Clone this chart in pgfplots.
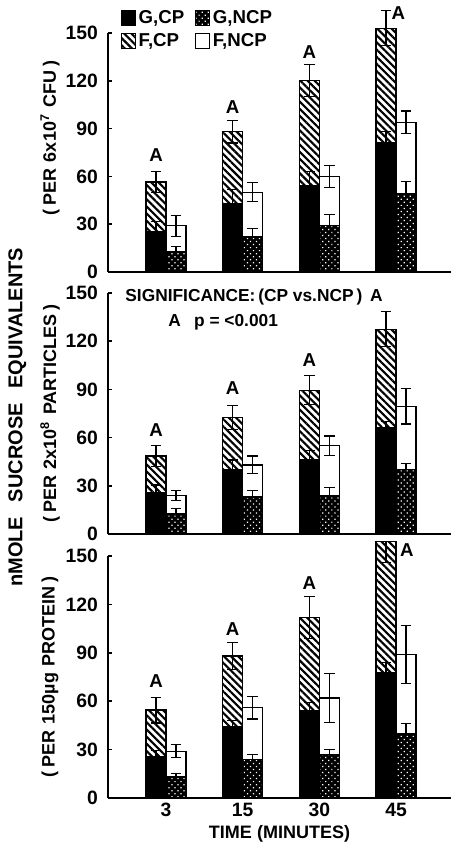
\documentclass[border=0pt]{standalone}
\usepackage{fontspec}
\setmainfont{Liberation Sans}
\usepackage{pgfplots}
\pgfplotsset{compat=1.18}
\usetikzlibrary{patterns.meta}

\newcommand\fs[1]{\fontsize{#1}{#1}\selectfont\bfseries}

\tikzset{
 fcp/.style={fill=white, draw=black, line width=0.9pt, postaction={pattern={Lines[angle=-45,distance=3.8pt,line width=1.6pt]}}},
 gcp/.style={fill=black, draw=black, line width=0.9pt},
 fncp/.style={fill=white, draw=black, line width=0.9pt},
 gncp/.style={fill=black, draw=black, line width=0.9pt, postaction={pattern={Dots[distance=3.2pt,radius=0.65pt,angle=45]}, pattern color=white}},
}

\pgfplotsset{
 panel/.style={
   scale only axis, width=257.25pt, anchor=south west,
   xmin=-0.756, xmax=3.717, ymin=0, ymax=150,
   axis x line*=bottom, axis y line*=left,
   axis line style={line width=1.1pt},
   ytick={0,30,60,90,120,150}, yticklabels={0,30,60,90,120,150},
   tick align=inside, major tick length=3pt,
   x tick style={draw=none},
   y tick style={line width=1.1pt, black},
   tick label style={font=\fs{14.5}},
   yticklabel style={xshift=-4pt},
   clip=false,
   ylabel style={at={(axis description cs:-0.169,0.5)}, anchor=center, font=\fs{13.5}},
 },
 bar/.style={ybar, bar width=0.26, bar shift=0pt, forget plot},
 eb/.style={draw=none, mark=none, forget plot, error bars/.cd, y dir=#1, y explicit,
   error bar style={draw=black, line width=0.9pt, solid},
   error mark options={draw=black, rotate=90, mark size=4pt, line width=0.9pt, solid}},
}

\begin{document}
\begin{tikzpicture}
\useasboundingbox (0,0) rectangle (338.25pt,636pt);

% ---------- Panel 1 ----------
\begin{axis}[panel, at={(81pt,432pt)}, height=179.25pt, xtick=\empty,
  ylabel={(\hspace{3pt}PER\hspace{5pt}6x10\textsuperscript{7}\hspace{5pt}CFU\hspace{3pt})},
  ylabel style={at={(axis description cs:-0.169,0.56)}},
  legend style={at={(axis description cs:0.025,1.118)}, anchor=north west, draw=none, fill=none,
    font=\fs{14}, /tikz/every even column/.append style={column sep=6pt}, row sep=2pt},
  legend columns=2, legend cell align=left]
\addlegendimage{legend image code/.code={\draw[gcp] (0pt,-5.8pt) rectangle (10.5pt,5.8pt);}}
\addlegendentry{G,CP}
\addlegendimage{legend image code/.code={\draw[gncp] (0pt,-5.8pt) rectangle (10.5pt,5.8pt);}}
\addlegendentry{G,NCP}
\addlegendimage{legend image code/.code={\draw[fcp] (0pt,-5.8pt) rectangle (10.5pt,5.8pt);}}
\addlegendentry{F,CP}
\addlegendimage{legend image code/.code={\draw[fncp] (0pt,-5.8pt) rectangle (10.5pt,5.8pt);}}
\addlegendentry{F,NCP}

\addplot[bar, fcp] coordinates {(-0.13,56.5) (0.87,88) (1.87,120) (2.87,153)};
\addplot[bar, gcp] coordinates {(-0.13,25.5) (0.87,43) (1.87,54) (2.87,81)};
\addplot[bar, fncp] coordinates {(0.13,29) (1.13,50) (2.13,60) (3.13,94)};
\addplot[bar, gncp] coordinates {(0.13,12.5) (1.13,22) (2.13,29) (3.13,49)};
\addplot[eb=both] coordinates {(-0.13,56.5) +- (0,6.5) (0.87,88) +- (0,7) (1.87,120) +- (0,10) (2.87,153) +- (0,11)};
\addplot[eb=plus] coordinates {(-0.13,25.5) += (0,6) (0.87,43) += (0,9) (1.87,54) += (0,9) (2.87,81) += (0,7)};
\addplot[eb=both] coordinates {(0.13,29) +- (0,6.5) (1.13,50) +- (0,6) (2.13,60) +- (0,7) (3.13,94) +- (0,7)};
\addplot[eb=plus] coordinates {(0.13,12.5) += (0,3.5) (1.13,22) += (0,5.5) (2.13,29) += (0,7) (3.13,49) += (0,8)};
\node[font=\fs{14}] at (axis cs:-0.13,73.4) {A};
\node[font=\fs{14}] at (axis cs:0.87,103.6) {A};
\node[font=\fs{14}] at (axis cs:1.87,138) {A};
\node[font=\fs{14}] at (axis cs:3.03,162.6) {A};
\end{axis}

% ---------- Panel 2 ----------
\begin{axis}[panel, at={(81pt,235.5pt)}, height=180.75pt, xtick=\empty,
  ylabel={(\hspace{3pt}PER\hspace{5pt}2x10\textsuperscript{8}\hspace{5pt}PARTICLES\hspace{3pt})}]
\addplot[bar, fcp] coordinates {(-0.13,48.5) (0.87,72.5) (1.87,89.5) (2.87,127.5)};
\addplot[bar, gcp] coordinates {(-0.13,25.5) (0.87,40) (1.87,46) (2.87,66)};
\addplot[bar, fncp] coordinates {(0.13,24) (1.13,43) (2.13,55) (3.13,79.5)};
\addplot[bar, gncp] coordinates {(0.13,13) (1.13,23) (2.13,24) (3.13,40)};
\addplot[eb=both] coordinates {(-0.13,48.5) +- (0,6.5) (0.87,72.5) +- (0,7.5) (1.87,89.5) +- (0,9) (2.87,127.5) +- (0,11)};
\addplot[eb=plus] coordinates {(-0.13,25.5) += (0,5) (0.87,40) += (0,6) (1.87,46) += (0,6) (2.87,66) += (0,4)};
\addplot[eb=both] coordinates {(0.13,24) +- (0,3) (1.13,43) +- (0,5.5) (2.13,55) +- (0,6) (3.13,79.5) +- (0,11)};
\addplot[eb=plus] coordinates {(0.13,13) += (0,3) (1.13,23) += (0,4) (2.13,24) += (0,5) (3.13,40) += (0,4)};
\node[font=\fs{14}] at (axis cs:-0.13,64.7) {A};
\node[font=\fs{14}] at (axis cs:0.87,91) {A};
\node[font=\fs{14}] at (axis cs:1.87,108) {A};
\node[font=\fs{13}, anchor=west, inner sep=0pt] at (axis description cs:0.05,0.983) {SIGNIFICANCE:\,(CP vs.NCP\,)\, A};
\node[font=\fs{13}, anchor=west, inner sep=0pt] at (axis description cs:0.175,0.88) {A\hspace{10pt}p = <0.001};
\end{axis}

% ---------- Panel 3 ----------
\begin{axis}[panel, at={(81pt,37.5pt)}, height=181.5pt,
  xtick={0,1,2,3}, xticklabels={3,15,30,45},
  xlabel={TIME\hspace{4pt}(MINUTES)}, xlabel style={font=\fs{13.5}},
  ylabel={(\hspace{3pt}PER\hspace{5pt}150\textmu g\hspace{5pt}PROTEIN\hspace{3pt})}]
\addplot[bar, fcp] coordinates {(-0.13,54.5) (0.87,88) (1.87,112) (2.87,159)};
\addplot[bar, gcp] coordinates {(-0.13,25.5) (0.87,44) (1.87,54) (2.87,78)};
\addplot[bar, fncp] coordinates {(0.13,29) (1.13,56) (2.13,62) (3.13,89)};
\addplot[bar, gncp] coordinates {(0.13,13) (1.13,24) (2.13,27) (3.13,40)};
\addplot[eb=both] coordinates {(-0.13,54.5) +- (0,8) (0.87,88) +- (0,8.5) (1.87,112) +- (0,13)};
\addplot[eb=minus] coordinates {(2.87,159) -= (0,13)};
\addplot[eb=plus] coordinates {(-0.13,25.5) += (0,4) (0.87,44) += (0,4) (1.87,54) += (0,5) (2.87,78) += (0,6)};
\addplot[eb=both] coordinates {(0.13,29) +- (0,4) (1.13,56) +- (0,7) (2.13,62) +- (0,15) (3.13,89) +- (0,18)};
\addplot[eb=plus] coordinates {(0.13,13) += (0,2) (1.13,24) += (0,3) (2.13,27) += (0,3) (3.13,40) += (0,6)};
\node[font=\fs{14}] at (axis cs:-0.13,72.5) {A};
\node[font=\fs{14}] at (axis cs:0.87,105) {A};
\node[font=\fs{14}] at (axis cs:1.87,133) {A};
\node[font=\fs{14}] at (axis cs:3.14,153.7) {A};
\end{axis}

\node[rotate=90, font=\fs{15}] at (13pt,323pt) {nMOLE\hspace{11pt}SUCROSE\hspace{11pt}EQUIVALENTS};
\end{tikzpicture}
\end{document}
